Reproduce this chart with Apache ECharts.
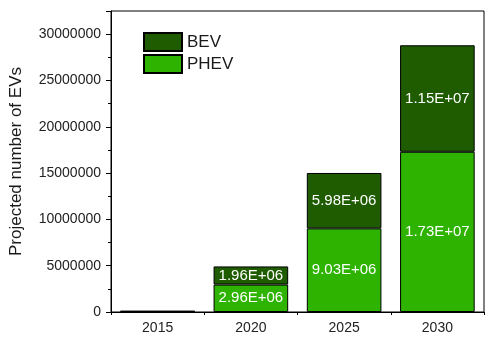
<!DOCTYPE html>
<html>
<head>
<meta charset="utf-8">
<script src="https://cdn.jsdelivr.net/npm/echarts@6/dist/echarts.min.js"></script>
<style>
  html, body { margin: 0; padding: 0; background: #fff; }
  #chart { width: 496px; height: 347px; }
</style>
</head>
<body>
<div id="chart"></div>
<script>
// Projected EV stock by year, split by powertrain
const years = ['2015', '2020', '2025', '2030'];
const phevValues = [60000, 2960000, 9030000, 17300000];
const bevValues = [40000, 1960000, 5980000, 11500000];
const yTicks = [0, 5000000, 10000000, 15000000, 20000000, 25000000, 30000000];

const FONT = 'Liberation Sans, Arial, sans-serif';
const BEV_COLOR = '#1f5c00';
const PHEV_COLOR = '#2db300';

// "2.96E+06" style scientific labels
function sci(v) {
  const parts = v.toExponential(2).split('e');
  const exp = parseInt(parts[1], 10);
  const sign = exp < 0 ? '-' : '+';
  const digits = String(Math.abs(exp)).padStart(2, '0');
  return parts[0] + 'E' + sign + digits;
}

// Segments too thin to hold text carry no label
function withLabels(values) {
  return values.map(v => ({
    value: v,
    label: { show: v >= 1000000 }
  }));
}

const segLabel = {
  show: true,
  position: 'inside',
  color: '#ffffff',
  fontFamily: FONT,
  fontSize: 15,
  formatter: p => sci(p.value)
};

const chart = echarts.init(document.getElementById('chart'), null, { renderer: 'canvas' });
chart.setOption({
  animation: false,
  textStyle: { fontFamily: FONT },
  grid: {
    left: 110, right: 12, top: 11, bottom: 35,
    show: true, borderColor: '#000', borderWidth: 1, backgroundColor: 'transparent'
  },
  legend: {
    data: ['BEV', 'PHEV'],
    orient: 'vertical',
    left: 143, top: 32,
    padding: 0,
    itemWidth: 38, itemHeight: 18, itemGap: 2,
    textStyle: { fontFamily: FONT, fontSize: 17, color: '#1a1a1a' },
    icon: 'rect'
  },
  xAxis: [
    {
      type: 'category',
      data: years,
      axisLine: { lineStyle: { color: '#000', width: 1 } },
      axisTick: { alignWithLabel: true, length: 5, lineStyle: { color: '#000' } },
      axisLabel: { fontFamily: FONT, fontSize: 14, color: '#222', margin: 9 }
    },
    {
      // boundary ticks between categories
      type: 'category',
      data: years,
      position: 'bottom',
      axisLine: { show: false },
      axisTick: { show: true, length: 3, lineStyle: { color: '#000' } },
      axisLabel: { show: false }
    }
  ],
  yAxis: {
    type: 'value',
    min: 0,
    max: 32500000,
    interval: 5000000,
    name: 'Projected number of EVs',
    nameLocation: 'middle',
    nameGap: 86,
    nameTextStyle: { fontFamily: FONT, fontSize: 17, color: '#1a1a1a' },
    axisLine: { show: true, lineStyle: { color: '#000', width: 1 } },
    axisTick: { show: true, length: 5, lineStyle: { color: '#000' } },
    minorTick: { show: true, splitNumber: 2, length: 3, lineStyle: { color: '#000' } },
    splitLine: { show: false },
    axisLabel: {
      fontFamily: FONT, fontSize: 14, color: '#222', margin: 10,
      formatter: v => (yTicks.indexOf(v) >= 0 ? String(v) : '')
    }
  },
  series: [
    {
      name: 'PHEV',
      type: 'bar',
      stack: 'ev',
      barCategoryGap: '20%',
      data: withLabels(phevValues),
      itemStyle: { color: PHEV_COLOR, borderColor: '#000', borderWidth: 1 },
      label: segLabel
    },
    {
      name: 'BEV',
      type: 'bar',
      stack: 'ev',
      barCategoryGap: '20%',
      data: withLabels(bevValues),
      itemStyle: { color: BEV_COLOR, borderColor: '#000', borderWidth: 1 },
      label: segLabel
    }
  ]
});
</script>
</body>
</html>
